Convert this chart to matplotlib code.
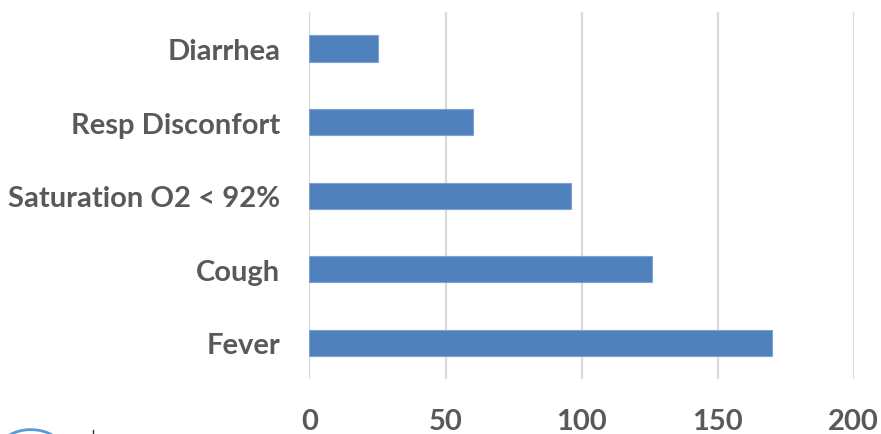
import matplotlib
matplotlib.use("Agg")
import matplotlib.pyplot as plt
from matplotlib.patches import Arc

categories = ["Diarrhea", "Resp Disconfort", "Saturation O2 < 92%", "Cough", "Fever"]
counts = [25, 60, 96, 126, 170]
x_ticks = [0, 50, 100, 150, 200]

plt.rcParams["font.family"] = ["Lato", "DejaVu Sans"]

fig = plt.figure(figsize=(8.81, 4.35), dpi=100)
ax = fig.add_axes([0.3513, 0.1255, 0.6177, 0.8452])

y = list(range(len(categories)))
ax.barh(y, counts, height=0.355, color="#4F81BD", edgecolor="#7FA3CF",
        linewidth=0.8, zorder=3)

ax.set_ylim(len(categories) - 0.5, -0.5)
ax.set_xlim(0, 200)
ax.set_xticks(x_ticks)
ax.set_xticklabels([str(t) for t in x_ticks])
ax.set_yticks(y)
ax.set_yticklabels(categories)

ax.grid(axis="x", color="#D9D9D9", linewidth=1.6, zorder=0)
for side in ["top", "right", "bottom", "left"]:
    ax.spines[side].set_visible(False)

ax.tick_params(axis="both", length=0, labelsize=21, labelcolor="#595959")
ax.tick_params(axis="y", pad=21)
ax.tick_params(axis="x", pad=20.5)
for lbl in ax.get_xticklabels() + ax.get_yticklabels():
    lbl.set_fontweight("bold")

# corner emblem, partly cut off by the lower edge
emblem = Arc((0.035, -0.035), 0.07, 0.09, theta1=35, theta2=165,
             transform=fig.transFigure, color="#5B9BD5", linewidth=2.0)
fig.patches.append(emblem)
fig.add_artist(plt.Line2D([0.106, 0.106], [0.0, 0.01], transform=fig.transFigure,
                          color="#333333", linewidth=1.0))

fig.savefig("out.png", dpi=100)
